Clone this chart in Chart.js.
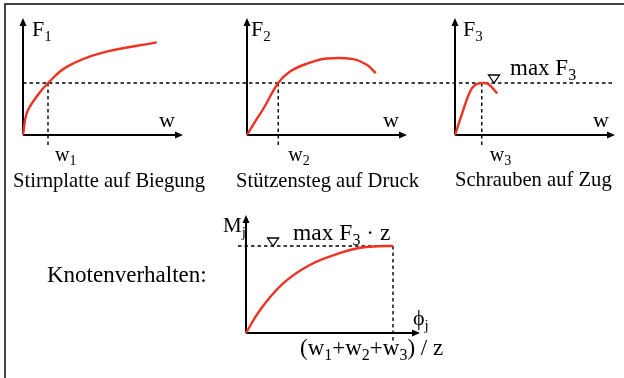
<!DOCTYPE html>
<html>
<head>
<meta charset="utf-8">
<script src="https://cdn.jsdelivr.net/npm/chart.js@4.4.1/dist/chart.umd.min.js"></script>
<style>
  html, body { margin: 0; padding: 0; background: #fff; }
  body { width: 624px; height: 378px; position: relative; overflow: hidden; }
  #frame { position: absolute; left: 4px; top: 3px; right: -10px; bottom: -10px;
           border-left: 2px solid #444; border-top: 2px solid #444; }
  canvas { position: absolute; }
</style>
</head>
<body>
<div id="frame"></div>
<canvas id="c1" width="210" height="200" style="left:0;top:0"></canvas>
<canvas id="c2" width="210" height="200" style="left:210px;top:0"></canvas>
<canvas id="c3" width="204" height="200" style="left:420px;top:0"></canvas>
<canvas id="c4" width="624" height="178" style="left:0;top:200px"></canvas>
<script>
const red = '#ee3322';
const serif = '"Liberation Serif", "Times New Roman", serif';

// Stirnplatte auf Biegung: F1 over w
const w1Curve = [0, 0.15, 0.55, 1.0, 1.75, 3.08, 5.35];
const f1Curve = [0, 0.42, 0.74, 1.0, 1.31, 1.57, 1.78];

// Stützensteg auf Druck: F2 over w
const w2Curve = [0, 0.3, 0.65, 1.25, 1.72, 2.39, 3.19, 4.25, 4.79, 5.15];
const f2Curve = [0, 0.24, 0.5, 1.0, 1.22, 1.37, 1.47, 1.46, 1.35, 1.19];

// Schrauben auf Zug: F3 over w
const w3Curve = [0, 0.33, 0.6, 0.8, 1.07, 1.33, 1.69];
const f3Curve = [0, 0.48, 0.83, 0.96, 1.0, 0.98, 0.80];

// Knotenverhalten: Mj over phi_j (relative to the end point)
const phiCurve = [0, 0.097, 0.256, 0.437, 0.641, 0.777, 0.9, 1.0];
const mjCurve = [0, 0.268, 0.575, 0.785, 0.92, 0.98, 0.997, 1.0];

// marked deformations and the common force level max F3
const w1 = 1.0, w2 = 1.25, w3 = 1.07;
const fLevel = 1;
const phiEnd = 1, mjEnd = 1;

// extra drawing per canvas: reference lines, markers, labels
const decor = {
  c1: {
    level: fLevel, mark: w1, dashFrom: null, dashTo: 210, drop: 13,
    labels: [
      { parts: [['F'], ['1', 1]], x: 32, y: 36, size: 22 },
      { parts: [['w']], x: 159, y: 127, size: 22 },
      { parts: [['w'], ['1', 1]], v: w1, dx: 7, y: 161, size: 20 },
      { parts: [['Stirnplatte auf Biegung']], x: 13, y: 187, size: 20.6 }
    ]
  },
  c2: {
    level: fLevel, mark: w2, dashFrom: 0, dashTo: 210, drop: 13,
    labels: [
      { parts: [['F'], ['2', 1]], x: 41, y: 36, size: 22 },
      { parts: [['w']], x: 173, y: 127, size: 22 },
      { parts: [['w'], ['2', 1]], v: w2, dx: 10, y: 161, size: 20 },
      { parts: [['Stützensteg auf Druck']], x: 26, y: 187, size: 20.6 }
    ]
  },
  c3: {
    level: fLevel, mark: w3, dashFrom: 0, dashTo: null, drop: 13,
    tri: 1.56,
    labels: [
      { parts: [['F'], ['3', 1]], x: 43, y: 36, size: 22 },
      { parts: [['max F'], ['3', 1]], x: 90, y: 75, size: 23 },
      { parts: [['w']], x: 173, y: 127, size: 22 },
      { parts: [['w'], ['3', 1]], v: w3, dx: 8, y: 161, size: 20 },
      { parts: [['Schrauben auf Zug']], x: 35, y: 186, size: 20.6 }
    ]
  },
  c4: {
    level: mjEnd, mark: phiEnd, dashFrom: 238, dashTo: 'mark', drop: 10,
    tri: 0.184,
    labels: [
      { parts: [['M'], ['j', 1]], x: 223, y: 32, size: 21 },
      { parts: [['max F'], ['3', 1], [' · z']], x: 293, y: 40, size: 23.5 },
      { parts: [['ϕ'], ['j', 1]], x: 413, y: 125, size: 22 },
      { parts: [['(w'], ['1', 1], ['+w'], ['2', 1], ['+w'], ['3', 1], [') / z']], x: 300, y: 155, size: 23 },
      { parts: [['Knotenverhalten:']], x: 47, y: 82, size: 23 }
    ]
  }
};

function drawParts(ctx, parts, x, y, size) {
  let cx = x;
  for (const [t, sub] of parts) {
    const s = sub ? Math.round(size * 0.7) : size;
    ctx.font = s + 'px ' + serif;
    ctx.fillText(t, cx, sub ? y + size * 0.22 : y);
    cx += ctx.measureText(t).width;
  }
}

const sketch = {
  id: 'sketch',
  beforeDatasetsDraw(chart) {
    const d = decor[chart.canvas.id];
    const { ctx, chartArea: a, scales: { x, y } } = chart;
    const py = y.getPixelForValue(d.level);
    const px = x.getPixelForValue(d.mark);
    ctx.save();
    // dashed reference lines
    ctx.strokeStyle = '#000';
    ctx.lineWidth = 1.4;
    ctx.setLineDash([3.5, 3]);
    const from = d.dashFrom == null ? a.left : d.dashFrom;
    const to = d.dashTo == null ? a.right : (d.dashTo === 'mark' ? px : d.dashTo);
    ctx.beginPath();
    ctx.moveTo(from, py);
    ctx.lineTo(to, py);
    ctx.moveTo(px, py);
    ctx.lineTo(px, a.bottom + d.drop);
    ctx.stroke();
    ctx.setLineDash([]);
    // axes with arrow heads
    ctx.strokeStyle = '#000';
    ctx.fillStyle = '#000';
    ctx.lineWidth = 2;
    ctx.beginPath();
    ctx.moveTo(a.left, a.bottom);
    ctx.lineTo(a.left, a.top + 6);
    ctx.moveTo(a.left, a.bottom);
    ctx.lineTo(a.right - 6, a.bottom);
    ctx.stroke();
    ctx.beginPath();
    ctx.moveTo(a.left, a.top);
    ctx.lineTo(a.left - 3.5, a.top + 8);
    ctx.lineTo(a.left + 3.5, a.top + 8);
    ctx.closePath();
    ctx.moveTo(a.right, a.bottom);
    ctx.lineTo(a.right - 8, a.bottom - 3.5);
    ctx.lineTo(a.right - 8, a.bottom + 3.5);
    ctx.closePath();
    ctx.fill();
    ctx.restore();
  },
  afterDatasetsDraw(chart) {
    const d = decor[chart.canvas.id];
    const { ctx, scales: { x, y } } = chart;
    ctx.save();
    if (d.tri != null) {
      const tx = x.getPixelForValue(d.tri);
      const ty = y.getPixelForValue(d.level);
      ctx.beginPath();
      ctx.moveTo(tx, ty);
      ctx.lineTo(tx - 5.5, ty - 8);
      ctx.lineTo(tx + 5.5, ty - 8);
      ctx.closePath();
      ctx.fillStyle = '#fff';
      ctx.fill();
      ctx.strokeStyle = '#000';
      ctx.lineWidth = 1.3;
      ctx.stroke();
    }
    ctx.fillStyle = '#000';
    ctx.textBaseline = 'alphabetic';
    for (const l of d.labels) {
      const lx = l.v != null ? x.getPixelForValue(l.v) + l.dx : l.x;
      drawParts(ctx, l.parts, lx, l.y, l.size);
    }
    ctx.restore();
  }
};

function makeChart(id, xs, ys, xMax, yMax, padding) {
  return new Chart(document.getElementById(id), {
    type: 'line',
    data: {
      datasets: [{
        data: xs.map((v, i) => ({ x: v, y: ys[i] })),
        borderColor: red,
        borderWidth: 2.4,
        pointRadius: 0,
        fill: false,
        tension: 0.4,
        clip: false
      }]
    },
    options: {
      responsive: false,
      animation: false,
      events: [],
      layout: { padding },
      scales: {
        x: { type: 'linear', min: 0, max: xMax, display: false },
        y: { type: 'linear', min: 0, max: yMax, display: false }
      },
      plugins: { legend: { display: false }, tooltip: { enabled: false } }
    },
    plugins: [sketch]
  });
}

makeChart('c1', w1Curve, f1Curve, 6.4, 2.25, { left: 23, right: 27, top: 18, bottom: 65 });
makeChart('c2', w2Curve, f2Curve, 6.4, 2.25, { left: 37, right: 13, top: 18, bottom: 65 });
makeChart('c3', w3Curve, f3Curve, 6.4, 2.25, { left: 35, right: 9, top: 18, bottom: 65 });
makeChart('c4', phiCurve, mjCurve, 174 / 147, 118 / 87, { left: 246, right: 204, top: 15, bottom: 45 });
</script>
</body>
</html>
